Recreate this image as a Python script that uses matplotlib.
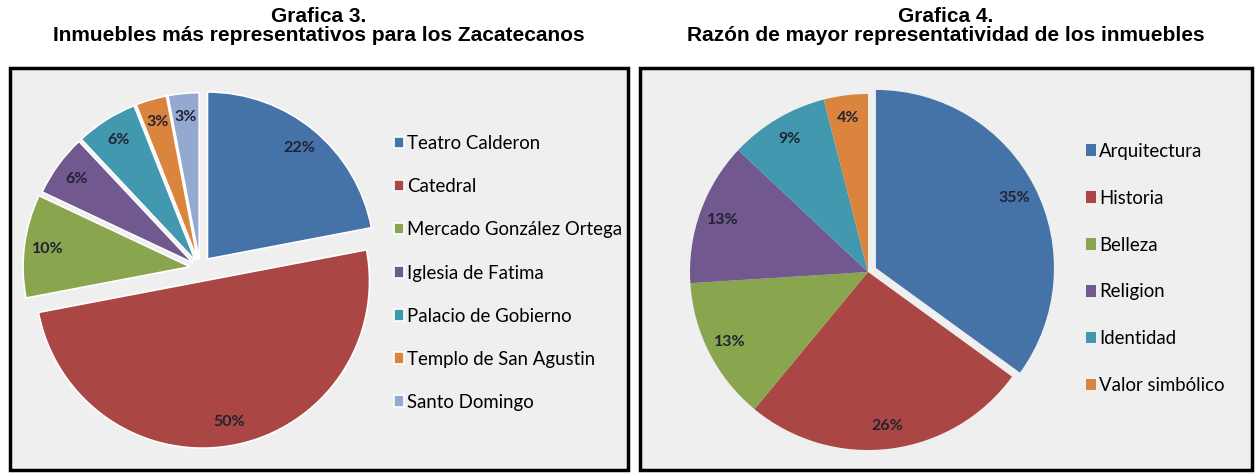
import matplotlib
matplotlib.use("Agg")
import matplotlib.pyplot as plt
from matplotlib.patches import Rectangle

W, H = 1258, 476

# Grafica 3 data
inmuebles = ["Teatro Calderon", "Catedral", "Mercado González Ortega",
             "Iglesia de Fatima", "Palacio de Gobierno",
             "Templo de San Agustin", "Santo Domingo"]
inmuebles_pct = [22, 50, 10, 6, 6, 3, 3]

# Grafica 4 data
razones = ["Arquitectura", "Historia", "Belleza", "Religion",
           "Identidad", "Valor simbólico"]
razones_pct = [35, 26, 13, 13, 9, 4]

colores = ["#4572A7", "#AA4643", "#89A54E", "#71588F",
           "#4198AF", "#DB843D", "#93A9CF"]

fig = plt.figure(figsize=(W / 100, H / 100), dpi=100)
fig.patch.set_facecolor("white")


def px_box(x0, y0, x1, y1):
    # pixel box (top-left origin) -> figure fraction
    return [x0 / W, (H - y1) / H, (x1 - x0) / W, (y1 - y0) / H]


def panel(x0, x1, title1, title2):
    b = px_box(x0, 68, x1, 470)
    fig.patches.append(Rectangle((b[0], b[1]), b[2], b[3], transform=fig.transFigure,
                                 facecolor="#efefef", edgecolor="black", lw=2.5, zorder=-5))
    xc = (x0 + x1) / 2 / W
    fig.text(xc, 1 - 22 / H, title1, ha="center", va="baseline", fontsize=15,
             fontweight="bold", family="Liberation Sans")
    fig.text(xc, 1 - 41 / H, title2, ha="center", va="baseline", fontsize=15,
             fontweight="bold", family="Liberation Sans")


def pie_axes(cx, cy, r, lim=1.2):
    s = 2 * lim * r
    ax = fig.add_axes(px_box(cx - s / 2, cy - s / 2, cx + s / 2, cy + s / 2))
    ax.set_zorder(2)
    ax.axis("off")
    return ax


panel(10, 628, "Grafica 3.", "Inmuebles más representativos para los Zacatecanos")
panel(640, 1252, "Grafica 4.", "Razón de mayor representatividad de los inmuebles")

# pie 3
ax1 = pie_axes(200, 268, 167)
w1, t1, a1 = ax1.pie(inmuebles_pct, colors=colores, startangle=90, counterclock=False,
                     explode=[0.07, 0.08, 0.06, 0.05, 0.05, 0.05, 0.05],
                     autopct="%1.0f%%", pctdistance=0.86,
                     wedgeprops=dict(edgecolor="white", linewidth=1.2),
                     textprops=dict(fontsize=11.5, fontweight="bold", color="#222233",
                                    family="Lato"))
ax1.set_xlim(-1.2, 1.2)
ax1.set_ylim(-1.2, 1.2)
ax1.set_aspect("equal")

# pie 4
ax2 = pie_axes(868, 272, 178)
w2, t2, a2 = ax2.pie(razones_pct, colors=colores[:6], startangle=90, counterclock=False,
                     explode=[0.05, 0, 0, 0, 0, 0],
                     autopct="%1.0f%%", pctdistance=0.87,
                     wedgeprops=dict(edgecolor="none", linewidth=0),
                     textprops=dict(fontsize=11.5, fontweight="bold", color="#222233",
                                    family="Lato"))
ax2.set_xlim(-1.2, 1.2)
ax2.set_ylim(-1.2, 1.2)
ax2.set_aspect("equal")

leg_kw = dict(loc="center left", frameon=False, borderpad=0, borderaxespad=0,
              handlelength=0.55, handleheight=0.55, handletextpad=0.15,
              prop=dict(family="Lato", size=13.4))

fig.legend(w1, inmuebles, bbox_to_anchor=(394 / W, 1 - 273 / H),
           labelspacing=1.4, **leg_kw)
fig.legend(w2, razones, bbox_to_anchor=(1086 / W, 1 - 268.5 / H),
           labelspacing=1.61, **leg_kw)

fig.savefig("out.png", dpi=100, facecolor="white")
